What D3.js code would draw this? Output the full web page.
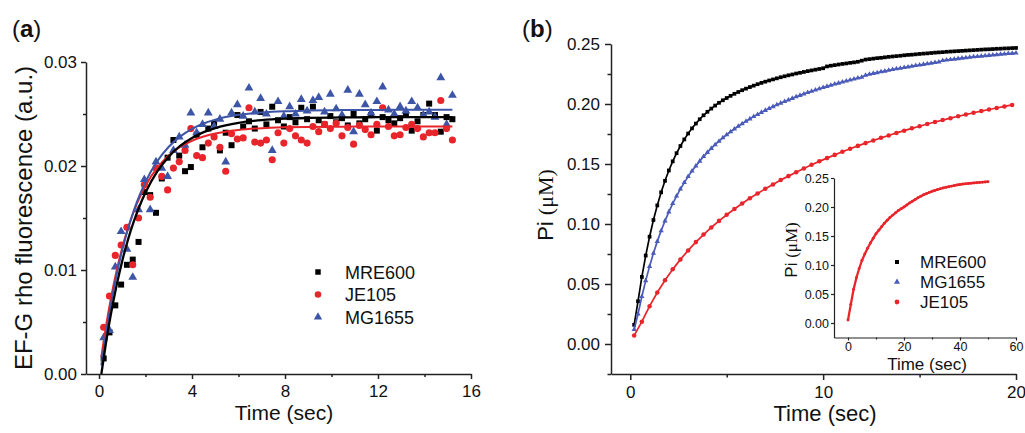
<!DOCTYPE html>
<html><head><meta charset="utf-8">
<script src="https://cdn.jsdelivr.net/npm/d3@7"></script>
<style>body{margin:0;background:#fff}svg{display:block}text{font-family:"Liberation Sans",Arial,sans-serif;fill:#111}</style>
</head><body>
<script>
// ---------- Panel (a) data ----------
const timeA = [0.2,0.45,0.7,0.95,1.2,1.45,1.7,1.95,2.2,2.45,2.7,2.95,3.2,3.45,3.7,3.95,4.2,4.45,4.7,4.95,5.2,5.45,5.7,5.95,6.2,6.45,6.7,6.95,7.2,7.45,7.7,7.95,8.2,8.45,8.7,8.95,9.2,9.45,9.7,9.95,10.2,10.45,10.7,10.95,11.2,11.45,11.7,11.95,12.2,12.45,12.7,12.95,13.2,13.45,13.7,13.95,14.2,14.45,14.7,14.95,15.2];
const mre600A = [0.0015,0.0040,0.0066,0.0086,0.0105,0.0110,0.0127,0.0175,0.0172,0.0155,0.0188,0.0208,0.0225,0.0210,0.0195,0.0199,0.0230,0.0218,0.0236,0.0241,0.0215,0.0232,0.0220,0.0249,0.0238,0.0243,0.0236,0.0252,0.0240,0.0257,0.0244,0.0238,0.0247,0.0242,0.0256,0.0245,0.0257,0.0244,0.0240,0.0248,0.0242,0.0246,0.0239,0.0250,0.0241,0.0245,0.0249,0.0234,0.0247,0.0244,0.0241,0.0246,0.0249,0.0234,0.0243,0.0249,0.0260,0.0249,0.0233,0.0247,0.0245];
const je105A = [0.0045,0.0075,0.0114,0.0124,0.0141,0.0105,0.0150,0.0182,0.0170,0.0198,0.0190,0.0177,0.0198,0.0204,0.0215,0.0236,0.0210,0.0208,0.0222,0.0228,0.0218,0.0195,0.0231,0.0226,0.0227,0.0256,0.0223,0.0222,0.0225,0.0206,0.0232,0.0222,0.0236,0.0229,0.0225,0.0222,0.0238,0.0233,0.0240,0.0236,0.0241,0.0229,0.0237,0.0221,0.0239,0.0235,0.0230,0.0240,0.0256,0.0238,0.0229,0.0230,0.0237,0.0240,0.0236,0.0228,0.0232,0.0232,0.0263,0.0236,0.0225];
const mg1655A = [0.0035,0.0042,0.0103,0.0137,0.0120,0.0093,0.0158,0.0187,0.0158,0.0204,0.0198,0.0190,0.0215,0.0228,0.0220,0.0251,0.0232,0.0240,0.0251,0.0238,0.0245,0.0204,0.0251,0.0259,0.0248,0.0275,0.0252,0.0265,0.0250,0.0215,0.0262,0.0248,0.0257,0.0250,0.0264,0.0253,0.0263,0.0266,0.0252,0.0269,0.0255,0.0249,0.0273,0.0233,0.0269,0.0259,0.0251,0.0262,0.0276,0.0254,0.0250,0.0257,0.0253,0.0262,0.0256,0.0249,0.0252,0.0247,0.0285,0.0240,0.0268];
// fitted curves (a)
const timeFitA = [0.1,0.3,0.5,0.75,1,1.25,1.5,1.75,2,2.5,3,3.5,4,4.5,5,6,7,8,9,10,11,12,13,14,15.2];
const mre600FitA = [0.0000,0.00299,0.00562,0.00846,0.01088,0.01294,0.01469,0.01618,0.01745,0.01945,0.0209,0.02195,0.0227,0.02326,0.02365,0.02415,0.02441,0.02455,0.02462,0.02466,0.02468,0.02469,0.0247,0.0247,0.0247];
const je105FitA = [0.00164,0.00459,0.00715,0.00987,0.01215,0.01405,0.01565,0.01698,0.0181,0.01981,0.02101,0.02185,0.02243,0.02284,0.02313,0.02347,0.02364,0.02372,0.02376,0.02378,0.02379,0.0238,0.0238,0.0238,0.0238];
const mg1655FitA = [0.00083,0.0039,0.00658,0.00947,0.01192,0.01399,0.01574,0.01722,0.01848,0.02044,0.02185,0.02285,0.02357,0.02409,0.02446,0.02492,0.02515,0.02527,0.02533,0.02537,0.02538,0.02539,0.0254,0.0254,0.0254];
const xTicksA = [0,4,8,12,16], xMinorA = [2,6,10,14];
const yTicksA = [0,0.01,0.02,0.03], yMinorA = [0.005,0.015,0.025];

// ---------- Panel (b) data ----------
const tStartB = 0.2, tStepB = 0.2;      // MRE600 & MG1655 sampling (s)
const tStartRedB = 0.2, tStepRedB = 0.4; // JE105 sampling (s)
const mre600B = [0.0160,0.0356,0.0559,0.0737,0.0894,0.1033,0.1155,0.1264,0.1360,0.1446,
0.1522,0.1590,0.1650,0.1705,0.1754,0.1797,0.1837,0.1873,0.1906,0.1935,
0.1962,0.1987,0.2010,0.2031,0.2050,0.2068,0.2085,0.2100,0.2115,0.2128,
0.2141,0.2153,0.2165,0.2176,0.2186,0.2196,0.2205,0.2214,0.2223,0.2231,
0.2239,0.2246,0.2254,0.2260,0.2267,0.2274,0.2280,0.2286,0.2292,0.2298,
0.2313,0.2319,0.2324,0.2329,0.2334,0.2338,0.2343,0.2347,0.2352,0.2361,
0.2370,0.2374,0.2378,0.2382,0.2385,0.2389,0.2393,0.2396,0.2399,0.2402,
0.2406,0.2409,0.2411,0.2414,0.2417,0.2420,0.2422,0.2425,0.2428,0.2430,
0.2432,0.2435,0.2437,0.2439,0.2441,0.2443,0.2445,0.2447,0.2449,0.2451,
0.2453,0.2455,0.2456,0.2458,0.2460,0.2461,0.2463,0.2464,0.2466,0.2467];
const mg1655B = [0.0120,0.0250,0.0396,0.0528,0.0647,0.0756,0.0855,0.0944,0.1026,0.1101,
0.1170,0.1233,0.1292,0.1345,0.1395,0.1441,0.1484,0.1524,0.1562,0.1597,
0.1630,0.1661,0.1690,0.1718,0.1744,0.1769,0.1792,0.1815,0.1836,0.1856,
0.1876,0.1895,0.1913,0.1930,0.1947,0.1962,0.1978,0.1993,0.2007,0.2021,
0.2034,0.2047,0.2060,0.2072,0.2084,0.2095,0.2106,0.2117,0.2127,0.2137,
0.2147,0.2156,0.2166,0.2174,0.2183,0.2192,0.2200,0.2208,0.2216,0.2223,
0.2240,0.2248,0.2255,0.2261,0.2268,0.2274,0.2281,0.2287,0.2293,0.2298,
0.2304,0.2309,0.2315,0.2320,0.2325,0.2330,0.2335,0.2340,0.2345,0.2350,
0.2362,0.2366,0.2370,0.2374,0.2378,0.2382,0.2386,0.2389,0.2393,0.2396,
0.2399,0.2402,0.2405,0.2408,0.2411,0.2414,0.2417,0.2420,0.2422,0.2425];
const je105B = [0.0070,0.0186,0.0315,0.0429,0.0531,0.0622,0.0705,0.0780,0.0849,0.0912,
0.0971,0.1026,0.1077,0.1125,0.1171,0.1214,0.1254,0.1293,0.1330,0.1366,
0.1399,0.1432,0.1463,0.1493,0.1522,0.1549,0.1576,0.1602,0.1627,0.1651,
0.1674,0.1696,0.1718,0.1738,0.1759,0.1778,0.1797,0.1815,0.1833,0.1850,
0.1866,0.1882,0.1898,0.1912,0.1927,0.1941,0.1954,0.1967,0.1980,0.1992];
const xTicksB = [0,10,20], xMinorB = [5,15];
const yTicksB = [0,0.05,0.10,0.15,0.20,0.25], yMinorB = [-0.025,0.025,0.075,0.125,0.175,0.225];

// inset (JE105 over 50 s, 1 s sampling)
const insetT0 = 0, insetStep = 1;
const je105Inset = [0.005,0.032,0.058,0.078,0.094,0.108,0.119,0.129,0.138,0.146,
0.154,0.160,0.166,0.172,0.177,0.182,0.186,0.190,0.194,0.197,
0.200,0.2035,0.207,0.210,0.213,0.216,0.2185,0.221,0.223,0.225,
0.227,0.2285,0.230,0.2315,0.2328,0.234,0.235,0.236,0.237,0.238,
0.2388,0.2395,0.240,0.2405,0.241,0.2415,0.242,0.2424,0.2428,0.2432,0.2435];
const xTicksIn = [0,20,40,60], xMinorIn = [10,30,50];
const yTicksIn = [0,0.05,0.10,0.15,0.20,0.25], yMinorIn = [];

const legendA = ["MRE600","JE105","MG1655"];
const legendB = ["MRE600","MG1655","JE105"];

// ---------- styling ----------
const BLACK="#000", RED="#e8252b", BLUE_A="#3d55a6", BLUE_B="#4a5bb8";
const W=1025,H=433;
const svg=d3.select("body").append("svg").attr("width",W).attr("height",H);

function axes(g, x, y, o){
  g.append("g").attr("transform",`translate(0,${y.range()[0]})`)
    .call(d3.axisBottom(x).tickValues(o.xt).tickFormat(o.xf).tickSize(o.maj).tickSizeOuter(0).tickPadding(o.xpad));
  g.append("g").attr("transform",`translate(0,${y.range()[0]})`)
    .call(d3.axisBottom(x).tickValues(o.xm).tickFormat("").tickSize(o.min).tickSizeOuter(0))
    .select(".domain").remove();
  g.append("g").attr("transform",`translate(${x.range()[0]},0)`)
    .call(d3.axisLeft(y).tickValues(o.yt).tickFormat(o.yf).tickSize(o.maj).tickSizeOuter(0).tickPadding(o.ypad));
  g.append("g").attr("transform",`translate(${x.range()[0]},0)`)
    .call(d3.axisLeft(y).tickValues(o.ym).tickFormat("").tickSize(o.min).tickSizeOuter(0))
    .select(".domain").remove();
  g.selectAll(".domain,.tick line").attr("stroke","#222").attr("stroke-width",o.sw);
  g.selectAll(".tick text").attr("font-size",o.fs).attr("fill","#222")
    .style("font-family",'"Liberation Sans",Arial,sans-serif');
}

// ---------- Panel (a) ----------
const xA=d3.scaleLinear().domain([-0.56,16]).range([86,471]);
const yA=d3.scaleLinear().domain([0,0.03]).range([374,62]);
const gA=svg.append("g");
axes(gA,xA,yA,{xt:xTicksA,xm:xMinorA,yt:yTicksA,ym:yMinorA,xf:d3.format("d"),yf:d3.format(".2f"),maj:5,min:3,xpad:6,ypad:4,fs:17,sw:1.5});

const symSq=d3.symbol().type(d3.symbolSquare), symCi=d3.symbol().type(d3.symbolCircle), symTr=d3.symbol().type(d3.symbolTriangle);
function pts(g,xs,ys,x,y,sym,size,col){
  g.append("g").selectAll("path").data(ys).join("path")
    .attr("d",sym.size(size)())
    .attr("transform",(d,i)=>`translate(${x(xs[i])},${y(d)})`)
    .attr("fill",col);
}
pts(gA,timeA,mre600A,xA,yA,symSq,36,BLACK);
pts(gA,timeA,je105A,xA,yA,symCi,40,RED);
pts(gA,timeA,mg1655A,xA,yA,symTr,34,BLUE_A);
function fit(g,xs,ys,x,y,col,w){
  g.append("path").datum(ys).attr("fill","none").attr("stroke",col).attr("stroke-width",w)
    .attr("d",d3.line().x((d,i)=>x(xs[i])).y(d=>y(d)).curve(d3.curveMonotoneX));
}
fit(gA,timeFitA,je105FitA,xA,yA,RED,2);
fit(gA,timeFitA,mg1655FitA,xA,yA,BLUE_A,2);
fit(gA,timeFitA,mre600FitA,xA,yA,BLACK,2.3);

// legend (a)
const legSymsA=[[symSq,30,BLACK],[symCi,34,RED],[symTr,30,BLUE_A]];
legendA.forEach((n,i)=>{
  const yy=272+i*22.5;
  gA.append("path").attr("d",legSymsA[i][0].size(legSymsA[i][1])()).attr("transform",`translate(318,${yy})`).attr("fill",legSymsA[i][2]);
  gA.append("text").attr("x",345).attr("y",yy+6.5).attr("font-size",18).text(n);
});
gA.append("text").attr("x",284).attr("y",420).attr("text-anchor","middle").attr("font-size",21).text("Time (sec)");
gA.append("text").attr("transform","translate(32,218) rotate(-90)").attr("text-anchor","middle").attr("font-size",24).text("EF-G rho fluorescence (a.u.)");
const la=gA.append("text").attr("x",12).attr("y",37).attr("font-size",24);
la.append("tspan").text("(");la.append("tspan").attr("font-weight","bold").text("a");la.append("tspan").text(")");

// ---------- Panel (b) ----------
const xB=d3.scaleLinear().domain([-1,20]).range([611,1016]);
const yB=d3.scaleLinear().domain([-0.025,0.25]).range([374,44]);
const gB=svg.append("g");
axes(gB,xB,yB,{xt:xTicksB,xm:xMinorB,yt:yTicksB,ym:yMinorB,xf:d3.format("d"),yf:d3.format(".2f"),maj:6,min:3.5,xpad:6,ypad:5,fs:17,sw:1.5});
const tB=mre600B.map((d,i)=>tStartB+i*tStepB);
const tRedB=je105B.map((d,i)=>tStartRedB+i*tStepRedB);
function lineSym(g,xs,ys,x,y,col,sym,size){
  g.append("path").datum(ys).attr("fill","none").attr("stroke",col).attr("stroke-width",1.7)
    .attr("d",d3.line().x((d,i)=>x(xs[i])).y(d=>y(d)));
  pts(g,xs,ys,x,y,sym,size,col);
}
lineSym(gB,tB,mre600B,xB,yB,BLACK,symSq,14);
lineSym(gB,tB,mg1655B,xB,yB,BLUE_B,symTr,12);
lineSym(gB,tRedB,je105B,xB,yB,RED,symCi,16);
gB.append("text").attr("x",825).attr("y",421).attr("text-anchor","middle").attr("font-size",22).text("Time (sec)");
const ylb=gB.append("text").attr("transform","translate(553,205) rotate(-90)").attr("text-anchor","middle").attr("font-size",22);
ylb.append("tspan").text("Pi ");ylb.append("tspan").style("font-family",'"Liberation Serif","Times New Roman",serif').text("(μM)");
const lb=gB.append("text").attr("x",522).attr("y",37).attr("font-size",24);
lb.append("tspan").text("(");lb.append("tspan").attr("font-weight","bold").text("b");lb.append("tspan").text(")");

// ---------- inset ----------
const xI=d3.scaleLinear().domain([-5,60]).range([834,1016]);
const yI=d3.scaleLinear().domain([-0.025,0.25]).range([337.5,178]);
const gI=svg.append("g");
axes(gI,xI,yI,{xt:xTicksIn,xm:xMinorIn,yt:yTicksIn,ym:yMinorIn,xf:d3.format("d"),yf:d3.format(".2f"),maj:3,min:2,xpad:2,ypad:2,fs:12.5,sw:1.2});
const tI=je105Inset.map((d,i)=>insetT0+i*insetStep);
gI.append("path").datum(je105Inset).attr("fill","none").attr("stroke",RED).attr("stroke-width",2.3)
  .attr("d",d3.line().x((d,i)=>xI(tI[i])).y(d=>yI(d)));
pts(gI,tI,je105Inset,xI,yI,symCi,7,RED);
const legSymsB=[[symSq,16,BLACK],[symTr,16,BLUE_B],[symCi,18,RED]];
legendB.forEach((n,i)=>{
  const yy=262+i*20;
  gI.append("path").attr("d",legSymsB[i][0].size(legSymsB[i][1])()).attr("transform",`translate(897,${yy})`).attr("fill",legSymsB[i][2]);
  gI.append("text").attr("x",920).attr("y",yy+6).attr("font-size",17).text(n);
});
gI.append("text").attr("x",927).attr("y",370).attr("text-anchor","middle").attr("font-size",17).text("Time (sec)");
const yli=gI.append("text").attr("transform","translate(797,250) rotate(-90)").attr("text-anchor","middle").attr("font-size",17);
yli.append("tspan").text("Pi ");yli.append("tspan").style("font-family",'"Liberation Serif","Times New Roman",serif').text("(μM)");
</script>
</body></html>
